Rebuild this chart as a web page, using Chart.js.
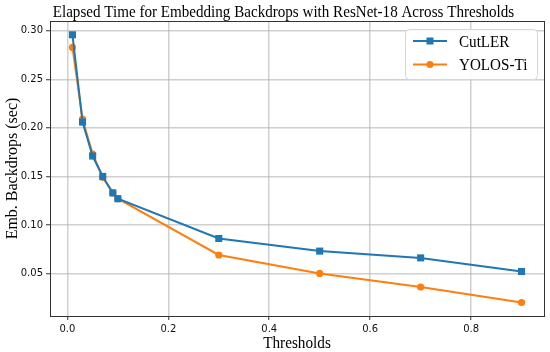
<!DOCTYPE html>
<html>
<head>
<meta charset="utf-8">
<script src="https://cdn.jsdelivr.net/npm/chart.js@4.4.0/dist/chart.umd.min.js"></script>
<style>
  html, body { margin: 0; padding: 0; background: #fff; }
  #wrap { width: 550px; height: 352px; }
</style>
</head>
<body>
<div id="wrap"><canvas id="chart" width="550" height="352"></canvas></div>
<script>
const thresholds = [0.01, 0.03, 0.05, 0.07, 0.09, 0.1, 0.3, 0.5, 0.7, 0.9];
const cutlerTimes = [0.296, 0.206, 0.171, 0.150, 0.133, 0.127, 0.086, 0.073, 0.066, 0.052];
const yolosTimes = [0.283, 0.209, 0.173, 0.149, 0.133, 0.127, 0.069, 0.050, 0.036, 0.020];
const xTicks = [0.0, 0.2, 0.4, 0.6, 0.8];
const yTicks = [0.05, 0.10, 0.15, 0.20, 0.25, 0.30];
const seriesNames = ['CutLER', 'YOLOS-Ti'];
const seriesColors = ['#1f77b4', '#ff7f0e'];
const seriesMarkers = ['rect', 'circle'];
const chartTitle = 'Elapsed Time for Embedding Backdrops with ResNet-18 Across Thresholds';
const xLabel = 'Thresholds';
const yLabel = 'Emb. Backdrops (sec)';

const serif = '"Liberation Serif", "DejaVu Serif", serif';
const sans = '"DejaVu Sans", sans-serif';

const toPoints = ys => thresholds.map((x, i) => ({x, y: ys[i]}));

// the reference serif text is a bit narrow, so squeeze it sideways
function narrowText(ctx, text, x, y, size, sx, align, baseline) {
    ctx.save();
    ctx.translate(x, y);
    ctx.scale(sx, 1);
    ctx.font = size + 'px ' + serif;
    ctx.fillStyle = '#000';
    ctx.textAlign = align;
    ctx.textBaseline = baseline;
    ctx.fillText(text, 0, 0);
    ctx.restore();
}

// title, x label, frame round the plot, legend inside the plot
const decorations = {
    id: 'decorations',
    afterDraw(chart) {
        const {ctx, chartArea: a} = chart;
        ctx.save();
        ctx.strokeStyle = '#333';
        ctx.lineWidth = 1;
        ctx.strokeRect(Math.round(a.left) + 0.5, Math.round(a.top) + 0.5,
            Math.round(a.right - a.left), Math.round(a.bottom - a.top));

        narrowText(ctx, chartTitle, 283.5, 17, 17, 0.888, 'center', 'alphabetic');
        narrowText(ctx, xLabel, (a.left + a.right) / 2, 347.5, 17.5, 0.87, 'center', 'alphabetic');

        // legend box
        const bx = 405, by = 29, bw = 132, bh = 50, r = 4;
        ctx.beginPath();
        ctx.roundRect(bx + 0.5, by + 0.5, bw, bh, r);
        ctx.fillStyle = 'rgba(255,255,255,0.85)';
        ctx.fill();
        ctx.strokeStyle = '#d6d6d6';
        ctx.stroke();

        chart.data.datasets.forEach((ds, i) => {
            const y = 41 + i * 23.5;
            ctx.strokeStyle = ds.borderColor;
            ctx.lineWidth = 2;
            ctx.beginPath();
            ctx.moveTo(413, y);
            ctx.lineTo(447, y);
            ctx.stroke();
            ctx.fillStyle = ds.borderColor;
            if (ds.pointStyle === 'rect') {
                ctx.fillRect(430 - 3.5, y - 3.5, 7, 7);
            } else {
                ctx.beginPath();
                ctx.arc(430, y, 3.6, 0, Math.PI * 2);
                ctx.fill();
            }
            narrowText(ctx, ds.label, 459, y + 5.5, 17, 0.89, 'left', 'alphabetic');
        });
        ctx.restore();
    }
};

new Chart(document.getElementById('chart'), {
    type: 'line',
    data: {
        datasets: [
            {label: seriesNames[0], data: toPoints(cutlerTimes)},
            {label: seriesNames[1], data: toPoints(yolosTimes)}
        ].map((ds, i) => ({
            ...ds,
            borderColor: seriesColors[i],
            backgroundColor: seriesColors[i],
            pointStyle: seriesMarkers[i],
            pointRadius: seriesMarkers[i] === 'rect' ? 5 : 3.6,
            pointBorderWidth: 0,
            borderWidth: 2,
            tension: 0
        }))
    },
    plugins: [decorations],
    options: {
        responsive: false,
        animation: false,
        devicePixelRatio: 1,
        layout: {padding: {top: 21, right: 6, left: 0, bottom: 0}},
        plugins: {
            legend: {display: false},
            title: {display: false},
            tooltip: {enabled: false}
        },
        scales: {
            x: {
                type: 'linear',
                min: -0.0345,
                max: 0.9445,
                afterBuildTicks: s => { s.ticks = xTicks.map(v => ({value: v})); },
                afterFit: s => { s.height = 36; },
                ticks: {
                    callback: v => v.toFixed(1),
                    color: '#111',
                    font: {family: sans, size: 10},
                    padding: 3,
                    maxRotation: 0
                },
                grid: {color: 'rgba(176,176,176,0.6)', lineWidth: 1.5, tickColor: '#333', tickWidth: 1, tickLength: 4},
                border: {display: true, color: '#333', width: 1}
            },
            y: {
                type: 'linear',
                min: 0.0061,
                max: 0.3102,
                afterBuildTicks: s => { s.ticks = yTicks.map(v => ({value: v})); },
                afterFit: s => { s.width = 50; },
                ticks: {
                    callback: v => v.toFixed(2),
                    color: '#111',
                    font: {family: sans, size: 10},
                    padding: 3
                },
                grid: {color: 'rgba(176,176,176,0.6)', lineWidth: 1.5, tickColor: '#333', tickWidth: 1, tickLength: 4},
                border: {display: true, color: '#333', width: 1},
                title: {display: true, text: yLabel, color: '#000',
                    font: {family: serif, size: 16}, padding: {top: 3, bottom: 0}}
            }
        }
    }
});
</script>
</body>
</html>
